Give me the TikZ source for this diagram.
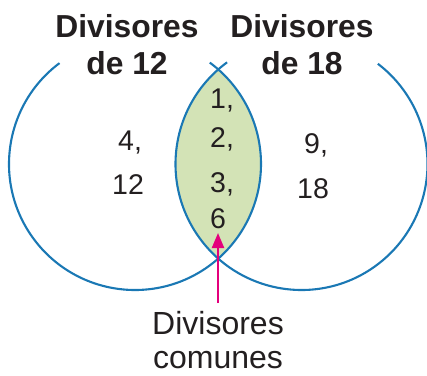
\documentclass[tikz,border=0pt]{standalone}
\usepackage{fontspec}
\setmainfont{Liberation Sans}
\usetikzlibrary{arrows.meta}
\definecolor{ringblue}{HTML}{1A78B4}
\definecolor{lensgreen}{HTML}{D3E3B6}
\definecolor{arrowpink}{HTML}{E4007C}
\definecolor{txt}{HTML}{231F20}
\tikzset{
  ring/.style={draw=ringblue, line width=2.1pt},
  title/.style={font=\fontsize{31.8}{37}\selectfont\bfseries, text=txt, anchor=base, inner sep=0pt, align=center},
  num/.style={font=\fontsize{28.5}{34}\selectfont, text=txt, anchor=base, inner sep=0pt},
  label/.style={font=\fontsize{32}{37}\selectfont, text=txt, anchor=base, inner sep=0pt, text depth=0pt},
  pointer/.style={draw=arrowpink, line width=2.2pt, -{Triangle[length=15pt,width=12pt]}}
}
\begin{document}
\begin{tikzpicture}[x=1pt,y=-1pt]
\useasboundingbox (0,0) rectangle (427,375);
\coordinate (L) at (135,164);
\coordinate (R) at (301.5,164);
% lens
\begin{scope}
  \clip (L) circle (126);
  \fill[lensgreen] (R) circle (126);
\end{scope}
% circles with gaps at the top
\draw[ring] (L) ++(-126.8:126) arc[start angle=-126.8, end angle=-413.6, radius=126];
\draw[ring] (R) ++(-126.2:126) arc[start angle=-126.2, end angle=-412.7, radius=126];
% titles
\node[title] (t1a) at (127,37) {Divisores};
\node[title] (t1b) at (127,74) {de 12};
\node[title] (t2a) at (302,37) {Divisores};
\node[title] (t2b) at (302,74) {de 18};
% left numbers
\node[num, anchor=base west] (n4) at (118,150) {4,};
\node[num, anchor=base west] (n12) at (112,194) {12};
% middle numbers
\node[num, anchor=base west] (m1) at (210,108) {1,};
\node[num, anchor=base west] (m2) at (210,147) {2,};
\node[num, anchor=base west] (m3) at (210,192) {3,};
\node[num, anchor=base west] (m6) at (210,228) {6};
% right numbers
\node[num, anchor=base west] (n9) at (304,153) {9,};
\node[num, anchor=base west] (n18) at (297,198) {18};
% common label and arrow
\node[label] (c1) at (218,334) {Divisores};
\node[label] (c2) at (218,368) {comunes};
\coordinate (tail) at (218,303);
\coordinate (tip) at (218,233);
\draw[pointer] (tail) -- (tip);
\end{tikzpicture}
\end{document}
